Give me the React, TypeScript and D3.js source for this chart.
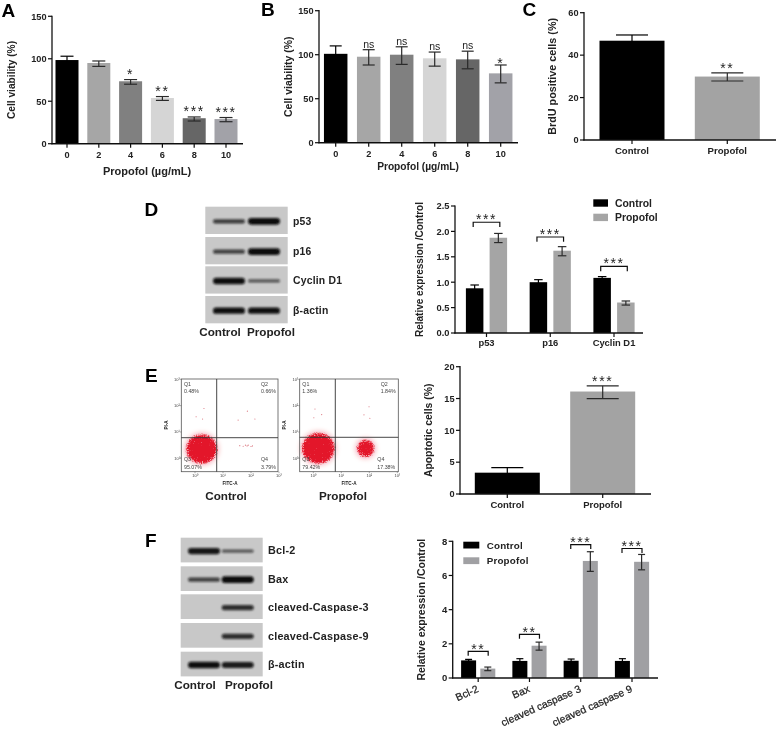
import React from "react";
import * as d3 from "d3";

// ---------- data ----------
const doses = ["0", "2", "4", "6", "8", "10"];
const groups = ["Control", "Propofol"];
const shadesDose = ["#000000", "#a6a6a6", "#808080", "#d5d5d5", "#666666", "#a2a2a8"];
const shadesGroup = ["#000000", "#a3a3a3"];

const aMean = [98.5, 95, 73.5, 53.8, 30, 29];
const aHigh = [103, 97.4, 75.5, 55.5, 31.5, 30.8];
const aLow = [94, 91, 70, 51, 26.7, 25.9];
const aMarks = ["", "", "*", "**", "***", "***"];

const bMean = [101, 97.7, 100, 95.9, 94.7, 78.8];
const bHigh = [110, 105.7, 109, 103, 104, 88.3];
const bLow = [92, 88.3, 89, 87, 84, 68];
const bMarks = ["", "ns", "ns", "ns", "ns", "*"];

const cMean = [46.8, 29.9];
const cHigh = [49.5, 31.6];
const cLow = [44.1, 27.8];
const cMarks = ["", "**"];

const dCats = ["p53", "p16", "Cyclin D1"];
const dCtlMean = [0.88, 1.0, 1.085];
const dCtlHigh = [0.945, 1.05, 1.11];
const dCtlLow = [0.82, 0.95, 1.06];
const dPropMean = [1.875, 1.62, 0.6];
const dPropHigh = [1.96, 1.7, 0.63];
const dPropLow = [1.78, 1.52, 0.55];
const dBracket = [2.18, 1.89, 1.31];
const dMarks = ["***", "***", "***"];

const eMean = [3.35, 16.1];
const eHigh = [4.13, 17.0];
const eLow = [2.6, 15.0];
const eMarks = ["", "***"];

const fCats = ["Bcl-2", "Bax", "cleaved caspase 3", "cleaved caspase 9"];
const fCtlMean = [1.03, 1.0, 1.01, 1.0];
const fCtlHigh = [1.09, 1.13, 1.11, 1.13];
const fCtlLow = [0.97, 0.88, 0.92, 0.88];
const fPropMean = [0.55, 1.89, 6.85, 6.8];
const fPropHigh = [0.64, 2.1, 7.39, 7.23];
const fPropLow = [0.43, 1.63, 6.24, 6.33];
const fBracket = [1.56, 2.55, 7.8, 7.58];
const fMarks = ["**", "**", "***", "***"];

const blotDRows = ["p53", "p16", "Cyclin D1", "β-actin"];
const blotDCtl = [0.5, 0.45, 0.95, 0.95];
const blotDProp = [1, 1, 0.25, 0.95];
const blotFRows = ["Bcl-2", "Bax", "cleaved-Caspase-3", "cleaved-Caspase-9", "β-actin"];
const blotFCtl = [0.9, 0.45, 0, 0, 0.95];
const blotFProp = [0.22, 1, 0.65, 0.65, 0.85];

const flowDecades = [0, 1, 2, 3];
const flow1Sparse = [[0.32, 1.89], [0.04, 1.58], [0.27, 1.49], [1.87, 1.79], [1.54, 1.45], [2.14, 1.49],
  [1.6, 0.48], [1.72, 0.46], [1.8, 0.5], [1.86, 0.47], [1.9, 0.5], [2.05, 0.47], [2.0, 0.45]];
const flow2Sparse = [[0.06, 1.87], [0.02, 1.54], [0.3, 1.66], [1.99, 1.96], [1.81, 1.65], [2.02, 1.52]];
const flow1Clouds = [[0.24, 0.35, 0.55, 0.55]];
const flow2Clouds = [[0.18, 0.38, 0.58, 0.58], [1.87, 0.38, 0.31, 0.33]];
const flow1Quads = [["Q1", "0.48%"], ["Q2", "0.66%"], ["Q3", "95.07%"], ["Q4", "3.79%"]];
const flow2Quads = [["Q1", "1.36%"], ["Q2", "1.84%"], ["Q3", "79.42%"], ["Q4", "17.38%"]];

// ---------- helpers ----------
const FONT = "'Liberation Sans', Arial, sans-serif";
const INK = "#222";

function Label({ x, y, size = 10, weight = "bold", anchor = "middle", rotate = 0, spacing = 0, fill = INK, stroke, children }: any) {
  return (
    <text x={x} y={y} fontFamily={FONT} fontSize={size} fontWeight={weight} textAnchor={anchor} fill={fill}
      stroke={stroke ? fill : undefined} strokeWidth={stroke || undefined}
      letterSpacing={spacing || undefined} transform={rotate ? `rotate(${rotate} ${x} ${y})` : undefined}>{children}</text>
  );
}

function Mark({ x, y, text }: any) {
  if (!text) return null;
  if (text === "ns") return <Label x={x} y={y + 3} size={10.5} weight="normal">ns</Label>;
  return <Label x={x} y={y + 8} size={14} weight="normal" spacing={1.6}>{text}</Label>;
}

function YAxis({ x, scale, ticks, fmt, size = 9.5, title, titleX, titleSize = 10.5 }: any) {
  const [y0, y1] = scale.range();
  return (
    <g>
      <line x1={x} x2={x} y1={y0 + 0.6} y2={y1 - 0.6} stroke="#111" strokeWidth={1.3} />
      {ticks.map((t: number) => (
        <g key={t}>
          <line x1={x - 4} x2={x} y1={scale(t)} y2={scale(t)} stroke="#111" strokeWidth={1.2} />
          <Label x={x - 5.5} y={scale(t) + size * 0.36} size={size} anchor="end">{fmt ? fmt(t) : t}</Label>
        </g>
      ))}
      <Label x={titleX} y={(y0 + y1) / 2} size={titleSize} rotate={-90}>{title}</Label>
    </g>
  );
}

function Bar({ cx, w, yS, mean, high, low, fill, capW }: any) {
  const base = yS(0);
  const err = fill === "#000000" ? "#000000" : "#2a2a2a";
  return (
    <g>
      <rect x={cx - w / 2} y={yS(mean)} width={w} height={base - yS(mean)} fill={fill} />
      <line x1={cx} x2={cx} y1={yS(high)} y2={yS(low)} stroke={err} strokeWidth={1.2} />
      <line x1={cx - capW / 2} x2={cx + capW / 2} y1={yS(high)} y2={yS(high)} stroke={err} strokeWidth={1.2} />
      <line x1={cx - capW / 2} x2={cx + capW / 2} y1={yS(low)} y2={yS(low)} stroke={err} strokeWidth={1.2} />
    </g>
  );
}

function SimpleBars({ cfg, cats, mean, high, low, marks, colors, ticks, title, xTitle }: any) {
  const yS = d3.scaleLinear().domain(cfg.yDomain).range(cfg.yRange);
  const xS = d3.scalePoint<string>().domain(cats).range(cfg.xCenters);
  return (
    <g>
      {cats.map((c: string, i: number) => (
        <Bar key={c} cx={xS(c)} w={cfg.barW} yS={yS} mean={mean[i]} high={high[i]} low={low[i]} fill={colors[i]} capW={cfg.capW} />
      ))}
      {cats.map((c: string, i: number) => (
        <Mark key={c} x={xS(c)} y={yS(high[i]) - cfg.markGap} text={marks[i]} />
      ))}
      <YAxis x={cfg.axisX} scale={yS} ticks={ticks} title={title} titleX={cfg.titleX} titleSize={cfg.titleSize} size={cfg.tickSize} />
      <line x1={cfg.axisX - 0.6} x2={cfg.xEnd} y1={yS(0)} y2={yS(0)} stroke="#111" strokeWidth={1.4} />
      {cats.map((c: string) => (
        <g key={c}>
          <line x1={xS(c)} x2={xS(c)} y1={yS(0)} y2={yS(0) + 4} stroke="#111" strokeWidth={1.2} />
          <Label x={xS(c)} y={yS(0) + cfg.catDy} size={cfg.catSize}>{c}</Label>
        </g>
      ))}
      {xTitle && <Label x={cfg.xTitleX} y={cfg.xTitleY} size={cfg.xTitleSize}>{xTitle}</Label>}
    </g>
  );
}

function GroupedBars({ cfg, cats, ctl, prop, bracket, marks, ticks, fmt, title }: any) {
  const yS = d3.scaleLinear().domain(cfg.yDomain).range(cfg.yRange);
  const xS = d3.scalePoint<string>().domain(cats).range(cfg.xCenters);
  const half = cfg.gap / 2;
  return (
    <g>
      {cats.map((c: string, i: number) => {
        const cx = xS(c) as number;
        const by = yS(bracket[i]);
        return (
          <g key={c}>
            <Bar cx={cx - half} w={cfg.barW} yS={yS} mean={ctl[0][i]} high={ctl[1][i]} low={ctl[2][i]} fill="#000000" capW={cfg.capW} />
            <Bar cx={cx + half} w={cfg.barW} yS={yS} mean={prop[0][i]} high={prop[1][i]} low={prop[2][i]} fill={cfg.gray} capW={cfg.capW} />
            <path d={`M${cx - cfg.bracketW / 2},${by + cfg.bracketLeg}V${by}H${cx + cfg.bracketW / 2}V${by + cfg.bracketLeg}`} fill="none" stroke="#111" strokeWidth={1.2} />
            <Mark x={cx} y={by - cfg.bracketMark} text={marks[i]} />
            <line x1={cx} x2={cx} y1={yS(0)} y2={yS(0) + 4} stroke="#111" strokeWidth={1.2} />
            {cfg.catRotate
              ? <Label x={cx + cfg.catDx} y={yS(0) + cfg.catDy} size={cfg.catSize} anchor="end" rotate={cfg.catRotate} weight="normal" stroke={0.25}>{c}</Label>
              : <Label x={cx} y={yS(0) + cfg.catDy} size={cfg.catSize}>{c}</Label>}
          </g>
        );
      })}
      <YAxis x={cfg.axisX} scale={yS} ticks={ticks} fmt={fmt} title={title} titleX={cfg.titleX} titleSize={cfg.titleSize} size={cfg.tickSize} />
      <line x1={cfg.axisX - 0.6} x2={cfg.xEnd} y1={yS(0)} y2={yS(0)} stroke="#111" strokeWidth={1.4} />
      {groups.map((g, i) => (
        <g key={g}>
          <rect x={cfg.legX} y={cfg.legY + i * cfg.legStep} width={cfg.legW} height={cfg.legH} fill={i ? cfg.gray : "#000"} />
          <Label x={cfg.legX + cfg.legW + cfg.legGap} y={cfg.legY + i * cfg.legStep + cfg.legH / 2 + 3.6} size={cfg.legSize} anchor="start" weight={cfg.legWeight} spacing={cfg.legSpacing}>{g}</Label>
        </g>
      ))}
    </g>
  );
}

function Blot({ cfg, rows, ctl, prop }: any) {
  const op = d3.scaleLinear().domain([0, 1]).range([0.5, 1]);
  const hgt = d3.scaleLinear().domain([0, 1]).range([2.2, 6.6]);
  return (
    <g>
      {rows.map((r: string, i: number) => {
        const y = cfg.rowY[i];
        const mid = y + cfg.rowH / 2 + 1;
        return (
          <g key={r + i}>
            <rect x={cfg.x} y={y} width={cfg.w} height={cfg.rowH} fill="#c8c8c8" />
            {[ctl[i], prop[i]].map((v: number, j: number) => v > 0 && (
              <rect key={j} x={cfg.bandX[j] - cfg.bandW / 2} y={mid - hgt(v) / 2} width={cfg.bandW} height={hgt(v)} rx={hgt(v) / 2}
                fill="#0a0a0a" opacity={op(v)} filter="url(#bandBlur)" />
            ))}
            <Label x={cfg.labelX} y={mid + cfg.labelDy} size={cfg.labelSize} anchor="start" spacing={0.2}>{r}</Label>
          </g>
        );
      })}
      {groups.map((g, j) => (
        <Label key={g} x={cfg.groupX[j]} y={cfg.groupY} size={11.7}>{g}</Label>
      ))}
    </g>
  );
}

function Flow({ cfg, sparse, clouds, quads }: any) {
  const xS = d3.scaleLinear().domain([0, 3]).range([cfg.x0, cfg.x0 + 84]);
  const yS = d3.scaleLinear().domain([0, 3]).range([458.3, 379.3]);
  const L = cfg.left, R = cfg.right, T = 379, B = 471.7;
  return (
    <g>
      <g filter="url(#speckle)">
        {clouds.map((c: number[], i: number) => (
          <ellipse key={i} cx={xS(c[0])} cy={yS(c[1])} rx={xS(c[2]) - xS(0)} ry={yS(0) - yS(c[3])} fill="#e3142a" />
        ))}
      </g>
      {sparse.map((p: number[], i: number) => (
        <circle key={i} cx={xS(p[0])} cy={yS(p[1])} r={0.55} fill="#d86a74" />
      ))}
      <rect x={L} y={T} width={R - L} height={B - T} fill="none" stroke="#555" strokeWidth={0.8} />
      <line x1={cfg.vx} x2={cfg.vx} y1={T} y2={B} stroke="#333" strokeWidth={0.9} />
      <line x1={L} x2={R} y1={cfg.hy} y2={cfg.hy} stroke="#333" strokeWidth={0.9} />
      {flowDecades.map((d) => (
        <g key={d}>
          <line x1={xS(d)} x2={xS(d)} y1={B} y2={B + 1.5} stroke="#555" strokeWidth={0.5} />
          <line x1={L - 1.5} x2={L} y1={yS(d)} y2={yS(d)} stroke="#555" strokeWidth={0.5} />
          <Label x={xS(d)} y={B + 5.5} size={4} weight="normal" fill="#444">{`10${"⁰¹²³"[d]}`}</Label>
          <Label x={L - 1.5} y={yS(d) + 1.3} size={4} weight="normal" anchor="end" fill="#444">{`10${"⁰¹²³"[d]}`}</Label>
        </g>
      ))}
      {quads.map((q: string[], i: number) => (
        <g key={q[0]}>
          <Label x={cfg.qx[i]} y={i < 2 ? 386 : 461} size={5.3} weight="normal" anchor="start" fill="#444">{q[0]}</Label>
          <Label x={cfg.qx[i]} y={i < 2 ? 392.6 : 468.6} size={5.3} weight="normal" anchor="start" fill="#444">{q[1]}</Label>
        </g>
      ))}
      <Label x={cfg.fitcX} y={484.5} size={4.6}>FITC-A</Label>
      <Label x={cfg.piX} y={425} size={4.6} rotate={-90}>PI-A</Label>
      <Label x={cfg.nameX} y={cfg.nameY} size={11.7}>{cfg.name}</Label>
    </g>
  );
}

// ---------- layout ----------
const cfgA = { yDomain: [0, 150], yRange: [143.7, 16.3], xCenters: [67, 226], barW: 23, capW: 13, markGap: 9, axisX: 52, xEnd: 243, titleX: 15, titleSize: 10.2, tickSize: 9.2, catDy: 14, catSize: 9.2, xTitleX: 147, xTitleY: 175, xTitleSize: 11 };
const cfgB = { yDomain: [0, 150], yRange: [142.7, 10.7], xCenters: [335.7, 500.7], barW: 23.5, capW: 12, markGap: 5, axisX: 319, xEnd: 518, titleX: 292, titleSize: 10.5, tickSize: 9.2, catDy: 14, catSize: 9.2, xTitleX: 418, xTitleY: 170, xTitleSize: 10.2 };
const cfgC = { yDomain: [0, 60], yRange: [140, 12.7], xCenters: [632, 727.3], barW: 65, capW: 32, markGap: 8, axisX: 584, xEnd: 776, titleX: 556, titleSize: 10.8, tickSize: 9.2, catDy: 14, catSize: 9.6 };
const cfgE = { yDomain: [0, 20], yRange: [494, 366.7], xCenters: [507.3, 602.7], barW: 65, capW: 32, markGap: 8, axisX: 460, xEnd: 651, titleX: 432, titleSize: 10.4, tickSize: 9.2, catDy: 14, catSize: 9.5 };
const cfgD = { yDomain: [0, 2.5], yRange: [333, 206], xCenters: [486.5, 614], barW: 17.5, capW: 8.5, gap: 23.7, axisX: 455, xEnd: 643, titleX: 423, titleSize: 10, tickSize: 9.3, catDy: 13, catSize: 9.4, gray: "#a5a5a5", bracketW: 26.6, bracketLeg: 4.7, bracketMark: 6.3, legX: 593.3, legY: 199.3, legStep: 14.4, legW: 14.7, legH: 7.4, legGap: 7, legSize: 10.4, legWeight: "bold", legSpacing: 0 };
const cfgF = { yDomain: [0, 8], yRange: [678, 541.3], xCenters: [478.2, 632], barW: 15, capW: 7, gap: 19.2, axisX: 452.7, xEnd: 658, titleX: 425, titleSize: 10.5, tickSize: 9.5, catDy: 13.5, catDx: 1, catSize: 10.4, catRotate: -24, gray: "#a0a0a3", bracketW: 20, bracketLeg: 4.4, bracketMark: 5.6, legX: 463.3, legY: 541.7, legStep: 15.6, legW: 16, legH: 6.8, legGap: 7.4, legSize: 9.8, legWeight: "bold", legSpacing: 0.2 };
const cfgBlotD = { x: 205.3, w: 82.4, rowH: 27.3, rowY: [206.7, 237, 266.3, 296], bandX: [229, 264], bandW: 32, labelX: 293, labelDy: 3.2, labelSize: 10.4, groupX: [220, 271], groupY: 336 };
const cfgBlotF = { x: 180.7, w: 82, rowH: 24.7, rowY: [537.7, 566.3, 594.3, 623, 651.7], bandX: [204, 237.7], bandW: 32, labelX: 268, labelDy: 3.2, labelSize: 10.8, groupX: [195, 249], groupY: 689 };
const cfgFlow1 = { x0: 195, left: 181.3, right: 278, vx: 216.7, hy: 437.7, qx: [184, 261, 184, 261], fitcX: 230, piX: 168, nameX: 226, nameY: 500, name: "Control" };
const cfgFlow2 = { x0: 313.3, left: 299.7, right: 398.3, vx: 335.3, hy: 437.3, qx: [302.3, 380.7, 302.3, 377.3], fitcX: 349, piX: 286, nameX: 343, nameY: 500, name: "Propofol" };
const letters = [["A", 1.5, 16.5], ["B", 261, 15.5], ["C", 522.5, 16], ["D", 144.5, 215.5], ["E", 145, 382], ["F", 145, 547]];

export default function App() {
  return (
    <svg width={778} height={730} viewBox="0 0 778 730" style={{ position: "absolute", left: 0, top: 0, display: "block", background: "#fff" }}>
      <defs>
        <filter id="bandBlur" x="-30%" y="-150%" width="160%" height="400%">
          <feGaussianBlur stdDeviation="1.3 0.9" />
        </filter>
        <filter id="soft" x="-1%" y="-1%" width="102%" height="102%">
          <feGaussianBlur stdDeviation="0.35" />
        </filter>
        <filter id="speckle" x="-40%" y="-40%" width="180%" height="180%" colorInterpolationFilters="sRGB">
          <feGaussianBlur in="SourceGraphic" stdDeviation="3.4" result="b" />
          <feComponentTransfer in="b" result="halo">
            <feFuncA type="linear" slope="0.55" intercept="0" />
          </feComponentTransfer>
          <feTurbulence type="fractalNoise" baseFrequency="0.85" numOctaves="2" seed="4" result="n" />
          <feColorMatrix in="n" type="matrix" values="0 0 0 0 0  0 0 0 0 0  0 0 0 0 0  1 0 0 0 0" result="na" />
          <feComposite in="b" in2="na" operator="arithmetic" k1="1.5" k2="0.25" k3="0" k4="0" result="mix" />
          <feComponentTransfer in="mix" result="thr">
            <feFuncA type="linear" slope="3" intercept="-1" />
          </feComponentTransfer>
          <feMerge result="both">
            <feMergeNode in="halo" />
            <feMergeNode in="thr" />
          </feMerge>
          <feFlood floodColor="#e3142a" />
          <feComposite in2="both" operator="in" />
        </filter>
      </defs>
      <g filter="url(#soft)">
        {letters.map(([t, x, y]) => (
          <Label key={t as string} x={x} y={y} size={19} anchor="start" fill="#000">{t}</Label>
        ))}
        <SimpleBars cfg={cfgA} cats={doses} mean={aMean} high={aHigh} low={aLow} marks={aMarks} colors={shadesDose} ticks={[0, 50, 100, 150]} title="Cell viability (%)" xTitle="Propofol (µg/mL)" />
        <SimpleBars cfg={cfgB} cats={doses} mean={bMean} high={bHigh} low={bLow} marks={bMarks} colors={shadesDose} ticks={[0, 50, 100, 150]} title="Cell viability (%)" xTitle="Propofol (µg/mL)" />
        <SimpleBars cfg={cfgC} cats={groups} mean={cMean} high={cHigh} low={cLow} marks={cMarks} colors={shadesGroup} ticks={[0, 20, 40, 60]} title="BrdU positive cells (%)" />
        <Blot cfg={cfgBlotD} rows={blotDRows} ctl={blotDCtl} prop={blotDProp} />
        <GroupedBars cfg={cfgD} cats={dCats} ctl={[dCtlMean, dCtlHigh, dCtlLow]} prop={[dPropMean, dPropHigh, dPropLow]} bracket={dBracket} marks={dMarks} ticks={[0, 0.5, 1, 1.5, 2, 2.5]} fmt={(t: number) => t.toFixed(1)} title="Relative expression /Control" />
        <Flow cfg={cfgFlow1} sparse={flow1Sparse} clouds={flow1Clouds} quads={flow1Quads} />
        <Flow cfg={cfgFlow2} sparse={flow2Sparse} clouds={flow2Clouds} quads={flow2Quads} />
        <SimpleBars cfg={cfgE} cats={groups} mean={eMean} high={eHigh} low={eLow} marks={eMarks} colors={shadesGroup} ticks={[0, 5, 10, 15, 20]} title="Apoptotic cells (%)" />
        <Blot cfg={cfgBlotF} rows={blotFRows} ctl={blotFCtl} prop={blotFProp} />
        <GroupedBars cfg={cfgF} cats={fCats} ctl={[fCtlMean, fCtlHigh, fCtlLow]} prop={[fPropMean, fPropHigh, fPropLow]} bracket={fBracket} marks={fMarks} ticks={[0, 2, 4, 6, 8]} title="Relative expression /Control" />
      </g>
    </svg>
  );
}
